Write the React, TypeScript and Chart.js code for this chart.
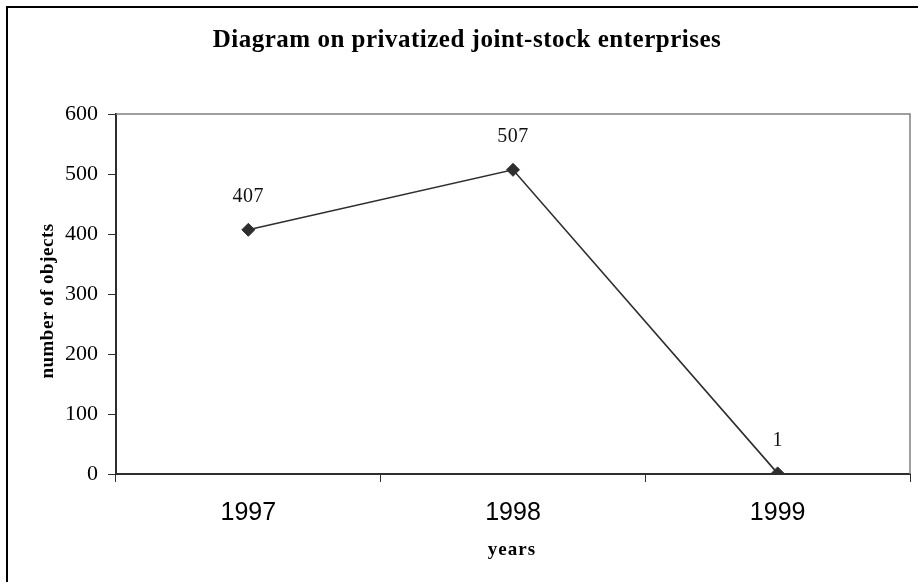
import React, { useEffect, useRef } from "react";
import { Chart, registerables } from "chart.js";

Chart.register(...registerables);

// Series data
const YEARS: string[] = ["1997", "1998", "1999"];
const OBJECTS: number[] = [407, 507, 1];
const Y_MIN = 0;
const Y_MAX = 600;
const Y_STEP = 100;

const TITLE = "Diagram on privatized joint-stock enterprises";
const Y_TITLE = "number of objects";
const X_TITLE = "years";

const SERIF = "'Liberation Serif', 'Times New Roman', serif";
const SANS = "'Liberation Sans', Arial, sans-serif";
const INK = "#2e2e2e";

// Outer frame, gray top/right border of the plot, titles and value labels
const decorations = {
  id: "decorations",
  afterDraw(chart: any) {
    const { ctx, chartArea } = chart;
    const { left, right, top, bottom } = chartArea;
    ctx.save();

    // frame around the whole chart
    ctx.strokeStyle = "#000";
    ctx.lineWidth = 2;
    ctx.strokeRect(7, 7, 2000, 2000);

    // plot area top and right edges
    ctx.strokeStyle = "#808080";
    ctx.lineWidth = 1.5;
    ctx.beginPath();
    ctx.moveTo(left, top);
    ctx.lineTo(right, top);
    ctx.lineTo(right, bottom);
    ctx.stroke();

    ctx.fillStyle = "#000";
    // chart title
    ctx.font = `bold 25px ${SERIF}`;
    (ctx as any).letterSpacing = "0.5px";
    ctx.textAlign = "center";
    ctx.textBaseline = "alphabetic";
    ctx.fillText(TITLE, 467, 47);

    // x axis title
    ctx.font = `bold 19px ${SERIF}`;
    (ctx as any).letterSpacing = "1px";
    ctx.fillText(X_TITLE, 512, 555);

    // y axis title
    (ctx as any).letterSpacing = "0.5px";
    ctx.save();
    ctx.translate(48, 301);
    ctx.rotate(-Math.PI / 2);
    ctx.textBaseline = "middle";
    ctx.fillText(Y_TITLE, 0, 0);
    ctx.restore();

    // value labels above each point
    (ctx as any).letterSpacing = "0.5px";
    ctx.font = `20px ${SERIF}`;
    ctx.fillStyle = "#111";
    ctx.textBaseline = "middle";
    const meta = chart.getDatasetMeta(0);
    meta.data.forEach((pt: any, i: number) => {
      const v = chart.data.datasets[0].data[i];
      ctx.fillText(String(v), pt.x, pt.y - 33);
    });

    ctx.restore();
  },
};

export default function App() {
  const canvasRef = useRef<HTMLCanvasElement | null>(null);

  useEffect(() => {
    if (!canvasRef.current) return;
    const chart = new Chart(canvasRef.current, {
      type: "line",
      data: {
        labels: YEARS,
        datasets: [
          {
            data: OBJECTS,
            borderColor: INK,
            borderWidth: 1.6,
            pointStyle: "rectRot",
            pointRadius: 6.5,
            pointBackgroundColor: INK,
            pointBorderColor: INK,
            pointBorderWidth: 1,
            tension: 0,
          },
        ],
      },
      options: {
        responsive: false,
        animation: false,
        events: [],
        layout: { padding: { top: 114, right: 8, left: 0, bottom: 0 } },
        plugins: {
          legend: { display: false },
          title: { display: false },
          tooltip: { enabled: false },
        },
        scales: {
          x: {
            offset: true,
            grid: {
              offset: true,
              drawOnChartArea: false,
              drawTicks: true,
              tickLength: 8,
              color: INK,
              lineWidth: 1,
            },
            border: { display: true, color: INK, width: 2 },
            ticks: {
              color: "#000",
              font: { family: SANS, size: 25 },
              padding: 16,
              maxRotation: 0,
            },
            afterFit(scale: any) {
              scale.height = 108;
            },
          },
          y: {
            min: Y_MIN,
            max: Y_MAX,
            grid: {
              drawOnChartArea: false,
              drawTicks: true,
              tickLength: 8,
              color: INK,
              lineWidth: 1,
            },
            border: { display: true, color: INK, width: 2 },
            ticks: {
              stepSize: Y_STEP,
              color: "#000",
              font: { family: SERIF, size: 22 },
              padding: 10,
            },
            afterFit(scale: any) {
              scale.width = 116;
            },
          },
        },
      },
      plugins: [decorations],
    });
    return () => chart.destroy();
  }, []);

  return (
    <div style={{ position: "fixed", left: 0, top: 0, width: 918, height: 582, background: "#fff" }}>
      <canvas ref={canvasRef} width={918} height={582} />
    </div>
  );
}
